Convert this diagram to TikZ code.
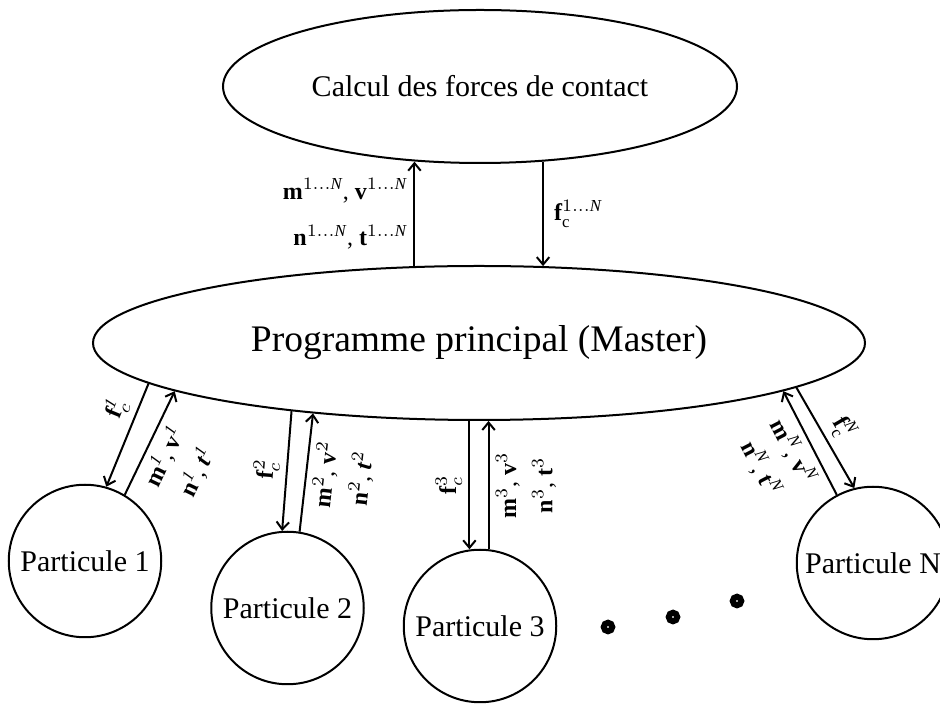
\documentclass[tikz,border=0pt]{standalone}
\usepackage{fontspec}
\setmainfont{Liberation Serif}
\usetikzlibrary{shapes.geometric,arrows.meta}

\tikzset{
  lbl/.style={font=\fontsize{9.6}{11.5}\selectfont, inner sep=2.5pt},
  particule/.style={circle, draw, inner sep=0pt, minimum size=61pt},
  pointdot/.style={circle, draw, line width=2.4pt, inner sep=0pt, minimum size=3.4pt}
}

\begin{document}
\begin{tikzpicture}[x=0.4pt, y=-0.4pt, line width=0.8pt, >={Straight Barb[length=3pt,width=5pt]}]
\useasboundingbox (0,0) rectangle (940,704);

\node (ellCalc) [ellipse, draw, inner sep=0pt, minimum width=205.6pt, minimum height=61.2pt] at (480,86.5) {};
\node [font=\fontsize{12}{14}\selectfont] at (ellCalc.center) {Calcul des forces de contact};

\node (ellMaster) [ellipse, draw, inner sep=0pt, minimum width=308.8pt, minimum height=61.6pt] at (479,343) {};
\node [font=\fontsize{15}{18}\selectfont] at (ellMaster.center) {Programme principal (Master)};

\node (circ1) [particule] at (85,561) {};
\node [font=\fontsize{12}{14}\selectfont] at (circ1.center) {Particule 1};
\node (circ2) [particule] at (287.5,608) {};
\node [font=\fontsize{12}{14}\selectfont] at (circ2.center) {Particule 2};
\node (circ3) [particule] at (480,626) {};
\node [font=\fontsize{12}{14}\selectfont] at (circ3.center) {Particule 3};
\node (circN) [particule] at (873,563) {};
\node [font=\fontsize{12}{14}\selectfont] at (circN.center) {Particule N};

\node (dot1) [pointdot] at (608,627) {};
\node (dot2) [pointdot] at (673,617) {};
\node (dot3) [pointdot] at (737,601) {};

\draw [->] (ellMaster.130) -- node [lbl, left, align=right] {$\mathbf{m}^{1\ldots\mathit{N}}$, $\mathbf{v}^{1\ldots\mathit{N}}$\\[7pt] $\mathbf{n}^{1\ldots\mathit{N}}$, $\mathbf{t}^{1\ldots\mathit{N}}$} (ellCalc.230 -| ellMaster.130);
\draw [->] (ellCalc.310) -- node [lbl, right, inner sep=4pt] {$\mathbf{f}_{\mathrm{c}}^{1\ldots\mathit{N}}$} (ellMaster.49 -| ellCalc.310);

\draw [->] (ellMaster.187.6) -- node [lbl, sloped, above, pos=0.32] {$\mathbf{f}_{c}^{\mathit{1}}$} (circ1.74);
\draw [->] (circ1.59) -- node [lbl, sloped, below, align=center, pos=0.45] {$\mathbf{m}^{\mathit{1}}$, $\mathbf{v}^{\mathit{1}}$\\[3pt] $\mathbf{n}^{\mathit{1}}$, $\mbox{\bfseries\itshape t}^{\mathit{1}}$} (ellMaster.189.1);

\draw [->] (ellMaster.200.9) -- node [lbl, sloped, above] {$\mathbf{f}_{c}^{2}$} (circ2.94);
\draw [->] (circ2.81) -- node [lbl, sloped, below, align=center] {$\mathbf{m}^{2}$, $\mathbf{v}^{2}$\\[3pt] $\mathbf{n}^{2}$, $\mbox{\bfseries\itshape t}^{2}$} (ellMaster.203.7);

\draw [->] (ellMaster.263.3) -- node [lbl, rotate=90, anchor=south] {$\mathbf{f}_{c}^{3}$} (circ3.97 -| ellMaster.263.3);
\draw [->] (circ3.83 -| ellMaster.277.4) -- node [lbl, sloped, below, align=center] {$\mathbf{m}^{3}$, $\mathbf{v}^{3}$\\[3pt] $\mathbf{n}^{3}$, $\mathbf{t}^{3}$} (ellMaster.277.4);

\draw [->] (ellMaster.352.6) -- node [lbl, sloped, above] {$\mathbf{f}_{\mathrm{c}}^{\mathit{N}}$} (circN.104);
\draw [->] (circN.118.7) -- node [lbl, sloped, below, align=center] {$\mathbf{m}^{\mathit{N}}$, $\mathbf{v}^{\mathit{N}}$\\[3pt] $\mathbf{n}^{\mathit{N}}$, $\mathbf{t}^{\mathit{N}}$} (ellMaster.351.1);
\end{tikzpicture}
\end{document}
